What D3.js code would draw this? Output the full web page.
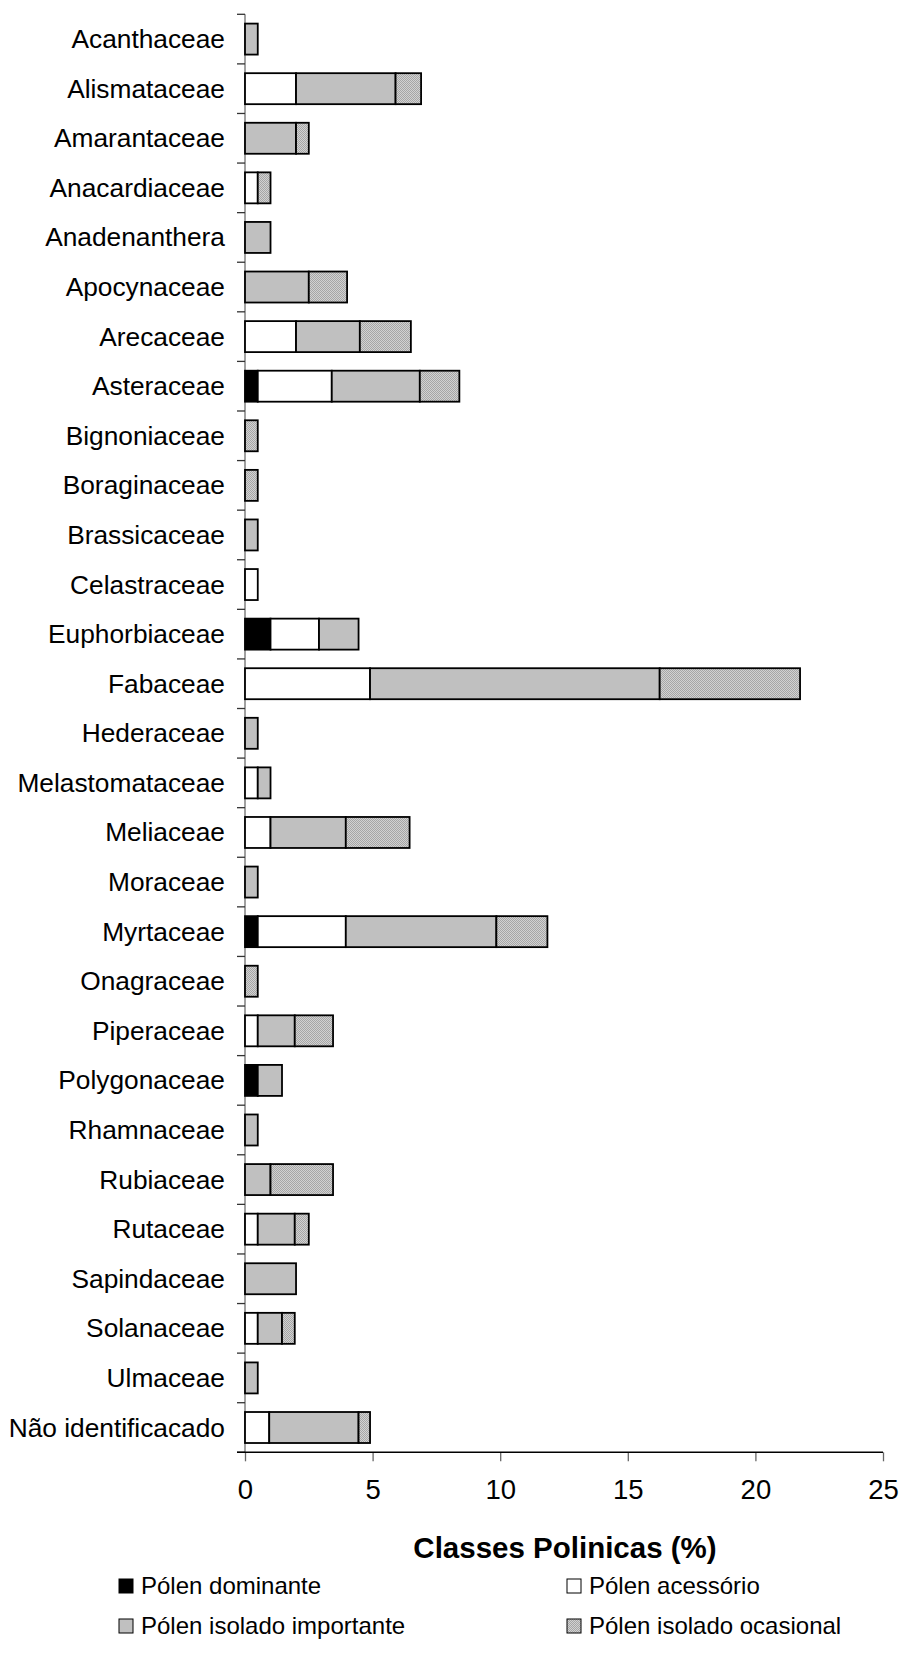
<!DOCTYPE html>
<html>
<head>
<meta charset="utf-8">
<script src="https://cdn.jsdelivr.net/npm/d3@7"></script>
<style>
  html, body { margin: 0; padding: 0; background: #fff; }
  svg { display: block; font-family: "Liberation Sans", Arial, sans-serif; }
</style>
</head>
<body>
<svg id="chart" width="904" height="1671"></svg>
<script>
const categories = ["Acanthaceae","Alismataceae","Amarantaceae","Anacardiaceae","Anadenanthera","Apocynaceae","Arecaceae","Asteraceae","Bignoniaceae","Boraginaceae","Brassicaceae","Celastraceae","Euphorbiaceae","Fabaceae","Hederaceae","Melastomataceae","Meliaceae","Moraceae","Myrtaceae","Onagraceae","Piperaceae","Polygonaceae","Rhamnaceae","Rubiaceae","Rutaceae","Sapindaceae","Solanaceae","Ulmaceae","Não identificacado"];
const dominante  = [0,0,0,0,0,0,0,0.5,0,0,0,0,1,0,0,0,0,0,0.5,0,0,0.5,0,0,0,0,0,0,0];
const acessorio  = [0,2,0,0.5,0,0,2,2.9,0,0,0,0.5,1.9,4.9,0,0.5,1,0,3.45,0,0.5,0,0,0,0.5,0,0.5,0,0.95];
const importante = [0.5,3.9,2,0,1,2.5,2.5,3.45,0,0,0.5,0,1.55,11.35,0.5,0.5,2.95,0.5,5.9,0,1.45,0.95,0.5,1,1.45,2,0.95,0.5,3.5];
const ocasional  = [0,1,0.5,0.5,0,1.5,2,1.55,0.5,0.5,0,0,0,5.5,0,0,2.5,0,2,0.5,1.5,0,0,2.45,0.55,0,0.5,0,0.45];
const seriesNames = ["Pólen dominante","Pólen acessório","Pólen isolado importante","Pólen isolado ocasional"];
const xTicks = [0,5,10,15,20,25];
const axisTitle = "Classes Polinicas (%)";

const keys = ["dom","acc","imp","oca"];
const rows = categories.map((c,i)=>({cat:c, dom:dominante[i], acc:acessorio[i], imp:importante[i], oca:ocasional[i]}));

const svg = d3.select("#chart");
const defs = svg.append("defs");
const pat = defs.append("pattern").attr("id","dots").attr("width",2).attr("height",2).attr("patternUnits","userSpaceOnUse");
pat.append("rect").attr("width",2).attr("height",2).attr("fill","#d2d2d2");
pat.append("rect").attr("x",0).attr("y",0).attr("width",1).attr("height",1).attr("fill","#a6a6a6");
pat.append("rect").attr("x",1).attr("y",1).attr("width",1).attr("height",1).attr("fill","#a6a6a6");

const fills = {dom:"#000000", acc:"#ffffff", imp:"#c0c0c0", oca:"url(#dots)"};

const x0 = 245, x1 = 883, yTop = 14.3, yBot = 1452.3;
const x = d3.scaleLinear().domain([0,25]).range([x0,x1]);
const y = d3.scaleBand().domain(categories).range([yTop,yBot]).paddingInner(0.375).paddingOuter(0.1875);

const stacked = d3.stack().keys(keys)(rows);

// y axis line (gray) and ticks at band boundaries
const step = y.step();
const boundaries = d3.range(categories.length+1).map(i => yTop + i*step);
svg.append("line").attr("x1",x0).attr("x2",x0).attr("y1",yTop).attr("y2",yBot)
  .attr("stroke","#808080").attr("stroke-width",1.5);
svg.append("g").selectAll("line").data(boundaries).join("line")
  .attr("x1",x0-8).attr("x2",x0).attr("y1",d=>d).attr("y2",d=>d)
  .attr("stroke","#333").attr("stroke-width",1.3);

// bars
svg.append("g").selectAll("g").data(stacked).join("g")
  .attr("fill", d => fills[d.key])
  .selectAll("rect").data(d => d.filter(s => s[1]-s[0] > 0)).join("rect")
  .attr("x", d => x(d[0]))
  .attr("width", d => x(d[1]) - x(d[0]))
  .attr("y", d => y(d.data.cat))
  .attr("height", y.bandwidth())
  .attr("stroke","#000").attr("stroke-width",1.8);

// category labels
svg.append("g").selectAll("text").data(categories).join("text")
  .attr("x",225).attr("y", d => y(d) + y.bandwidth()/2 + 9)
  .attr("text-anchor","end").attr("font-size",26.3).attr("fill","#000")
  .text(d=>d);

// x axis
const xAxis = d3.axisBottom(x).tickValues(xTicks).tickSize(9).tickPadding(18).tickFormat(d3.format("d"));
const gx = svg.append("g").attr("transform",`translate(0,${yBot})`).call(xAxis);
gx.select(".domain").remove();
gx.selectAll(".tick line").attr("stroke","#666").attr("stroke-width",1.3);
gx.selectAll(".tick text").attr("font-size",27.5).attr("font-family","Liberation Sans, Arial, sans-serif").attr("fill","#000");
svg.append("line").attr("x1",x0-8).attr("x2",x1).attr("y1",yBot).attr("y2",yBot)
  .attr("stroke","#000").attr("stroke-width",1.5);

// axis title
svg.append("text").attr("x",565).attr("y",1558).attr("text-anchor","middle")
  .attr("font-size",29.5).attr("font-weight","bold").attr("fill","#000").text(axisTitle);

// legend
const legendPos = [[119,1594],[567,1594],[119,1634],[567,1634]];
const lg = svg.append("g").selectAll("g").data(keys).join("g")
  .attr("transform",(d,i)=>`translate(${legendPos[i][0]},${legendPos[i][1]})`);
lg.append("rect").attr("x",0).attr("y",-15).attr("width",14).attr("height",14)
  .attr("fill",d=>fills[d]).attr("stroke","#000").attr("stroke-width",1);
lg.append("text").attr("x",22).attr("y",0).attr("font-size",24).attr("fill","#000")
  .text((d,i)=>seriesNames[i]);
</script>
</body>
</html>
